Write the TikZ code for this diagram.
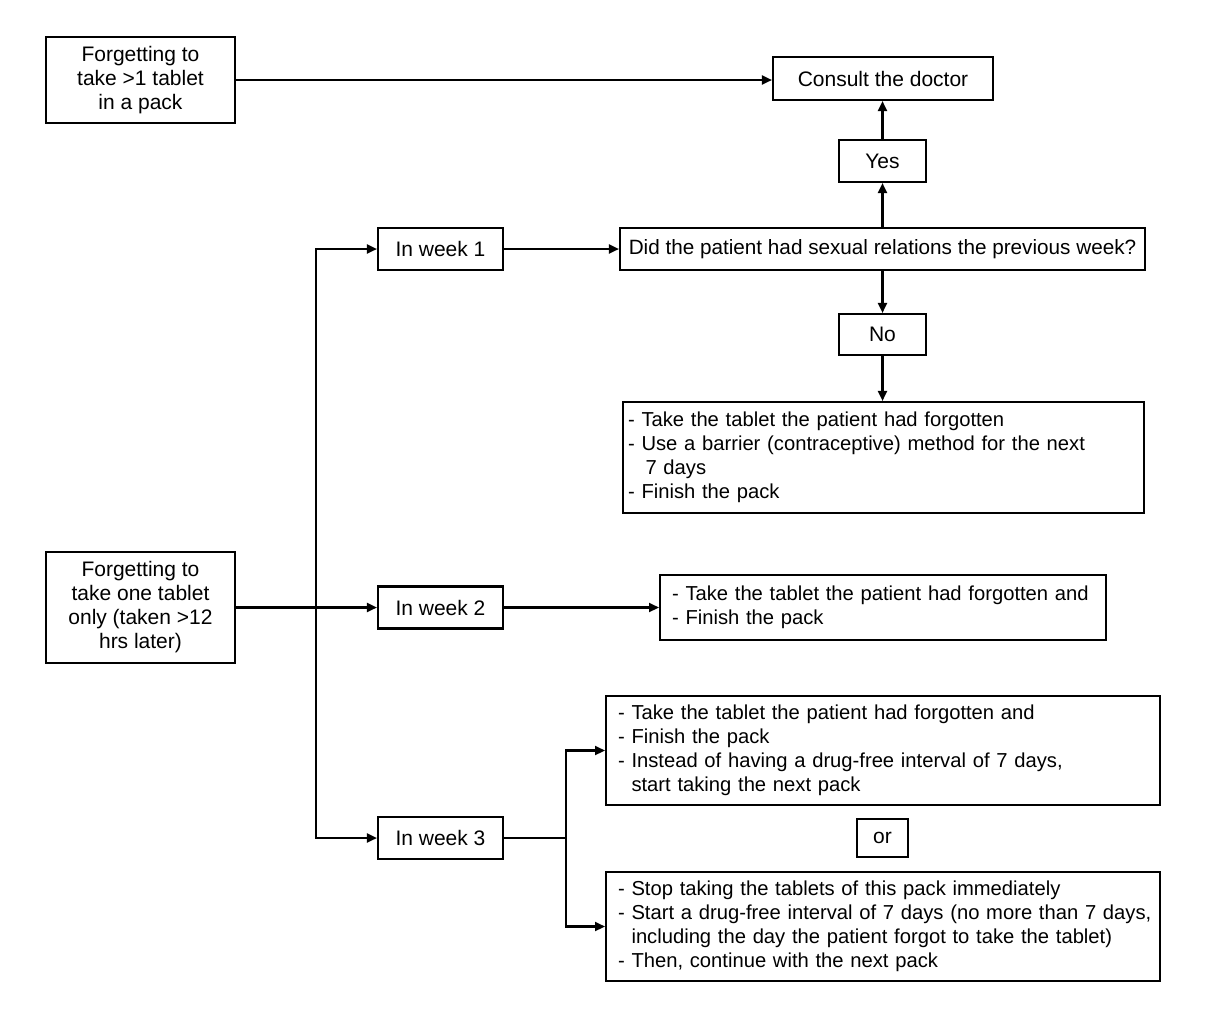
\documentclass[tikz,border=0pt]{standalone}
\usepackage{fontspec}
\setmainfont{Liberation Sans}
\newfontfamily\listfont[WordSpace=0.8]{Liberation Sans}
\usetikzlibrary{arrows.meta}
\newcommand{\fsz}{\fontsize{21}{24}\selectfont}
\newcommand{\qsz}{\fontsize{20.7}{24}\selectfont}
\newcommand{\lsz}{\listfont\fontsize{20.2}{24}\selectfont}
\newcommand{\myln}[1]{\mbox{#1}}
\tikzset{
 box/.style={draw, line width=2.1pt, inner sep=0pt, align=center, font=\fsz},
 lbox/.style={draw, line width=2.1pt, inner ysep=0pt, align=left, font=\lsz, anchor=west},
 arr/.style={line width=2.1pt, -{Triangle[length=10pt,width=9pt]}},
 lnk/.style={line width=2.1pt}
}
\begin{document}
\begin{tikzpicture}[x=1pt,y=-1pt]
\fill[white] (0,0) rectangle (1208,1021);
\useasboundingbox (0,0) rectangle (1208,1021);
\node[box, minimum width=189, minimum height=86] (a) at (140.5,80) {Forgetting to\\take >1 tablet\\in a pack};
\node[box, minimum width=220, minimum height=43] (cons) at (883,78.5) {Consult the doctor};
\node[box, minimum width=87, minimum height=42] (yes) at (882.5,161) {Yes};
\node[box, font=\qsz, minimum width=525, minimum height=42] (q) at (882.5,249) {Did the patient had sexual relations the previous week?};
\node[box, minimum width=87, minimum height=41] (no) at (882.5,334.5) {No};
\node[lbox, inner xsep=5pt, text width=511pt, minimum height=111] (nobox) at (622,457.5) {\myln{- Take the tablet the patient had forgotten}\\\myln{- Use a barrier (contraceptive) method for the next}\\\myln{\hphantom{- }\kern4pt 7 days}\\\myln{- Finish the pack}};
\node[box, minimum width=189, minimum height=111] (b) at (140.5,607.5) {Forgetting to\\take one tablet\\only (taken >12\\hrs later)};
\node[box, minimum width=125, minimum height=42] (w1) at (440.5,249) {In week 1};
\node[box, minimum width=125, minimum height=42] (w2) at (440.5,607.5) {In week 2};
\node[box, minimum width=125, minimum height=42] (w3) at (440.5,838) {In week 3};
\node[lbox, inner xsep=12pt, text width=422pt, minimum height=65] (w2box) at (659,607.5) {\myln{- Take the tablet the patient had forgotten and}\\\myln{- Finish the pack}};
\node[lbox, inner xsep=12pt, text width=530pt, minimum height=109] (w3a) at (605,750.5) {\myln{- Take the tablet the patient had forgotten and}\\\myln{- Finish the pack}\\\myln{- Instead of having a drug-free interval of 7 days,}\\\myln{\hphantom{- }start taking the next pack}};
\node[box, minimum width=51, minimum height=38] (or) at (882.5,838) {or};
\node[lbox, inner xsep=12pt, text width=530pt, minimum height=109] (w3b) at (605,926.5) {\myln{- Stop taking the tablets of this pack immediately}\\\myln{- Start a drug-free interval of 7 days (no more than 7 days,}\\\myln{\hphantom{- }including the day the patient forgot to take the tablet)}\\\myln{- Then, continue with the next pack}};
\draw[arr] (a.east) -- (a.east -| cons.west);
\draw[arr] (q.north) -- (yes.south);
\draw[arr] (yes.north) -- (yes.north |- cons.south);
\draw[arr] (q.south) -- (no.north);
\draw[arr] (no.south) -- (no.south |- nobox.north);
\draw[arr] (w1.east) -- (q.west);
\draw[arr] (w2.east) -- (w2box.west);
\coordinate (br) at (316,607.5);
\draw[arr] (b.east) -- (w2.west);
\draw[arr] (br) |- (w1.west);
\draw[arr] (br) |- (w3.west);
\coordinate (c) at (566,838);
\draw[lnk] (w3.east) -- (c);
\draw[arr] (c) |- (w3a.west);
\draw[arr] (c) |- (w3b.west);
\end{tikzpicture}
\end{document}
